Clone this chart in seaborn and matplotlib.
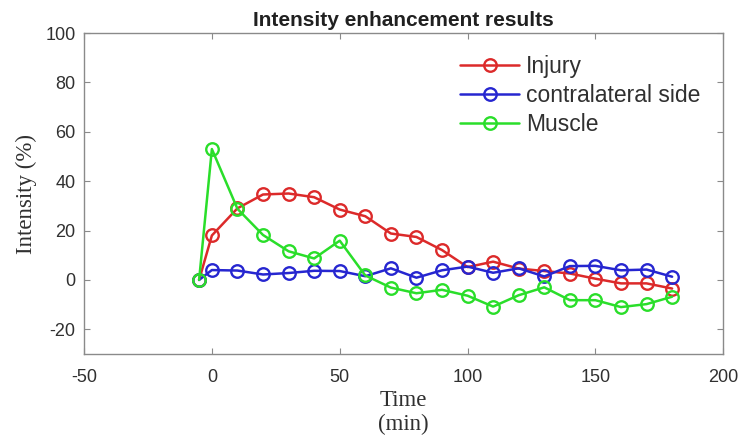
"""
Intensity enhancement over time for injury, contralateral side and muscle.
"""

import pandas as pd
import matplotlib
matplotlib.use("Agg")
import matplotlib.pyplot as plt
import seaborn as sns

# data
time_min = [-5, 0, 10, 20, 30, 40, 50, 60, 70, 80, 90, 100,
            110, 120, 130, 140, 150, 160, 170, 180]
injury = [0, 18, 29, 34.6, 35, 33.5, 28.5, 25.8, 18.8, 17.4, 12.1, 5.2,
          7.4, 4.6, 3.6, 2.6, 0.5, -1.4, -1.4, -3.5]
contralateral = [0, 4, 3.8, 2.2, 2.8, 3.7, 3.6, 1.5, 4.7, 0.9, 3.9, 5.4,
                 2.9, 4.7, 1.4, 5.6, 5.7, 3.9, 4.2, 1.3]
muscle = [0, 53, 28.8, 18.2, 11.6, 8.7, 15.9, 1.8, -3.1, -5.4, -4.0, -6.4,
          -10.8, -6.2, -3.0, -8.2, -8.2, -11, -9.8, -6.8]
series_names = ["Injury", "contralateral side", "Muscle"]
colors = ["#dc2a2a", "#2626d0", "#2ade2a"]

x_ticks = [-50, 0, 50, 100, 150, 200]
y_ticks = [-20, 0, 20, 40, 60, 80, 100]


def build_frame():
    parts = []
    for name, vals in zip(series_names, [injury, contralateral, muscle]):
        parts.append(pd.DataFrame({"time": time_min, "intensity": vals,
                                   "region": name}))
    return pd.concat(parts, ignore_index=True)


def main():
    df = build_frame()

    sns.set_theme(style="ticks")
    plt.rcParams['font.family'] = ['Liberation Sans', 'DejaVu Sans']
    plt.rcParams['axes.unicode_minus'] = False

    fig = plt.figure(figsize=(7.45, 4.45), dpi=100)
    ax = fig.add_axes([0.1128, 0.2045, 0.858, 0.7213])

    sns.lineplot(data=df, x="time", y="intensity", hue="region",
                 hue_order=series_names, palette=colors,
                 errorbar=None, legend=False, ax=ax)

    # MATLAB-like open circle markers on solid lines
    # (seaborn defaults the marker edge to white, so set it to the line colour)
    for line, col in zip(ax.lines[:3], colors):
        line.set_linestyle("-")
        line.set_linewidth(1.8)
        line.set_marker("o")
        line.set_markersize(9)
        line.set_markerfacecolor("none")
        line.set_markeredgecolor(col)
        line.set_markeredgewidth(1.7)

    ax.set_xlim(-50, 200)
    ax.set_ylim(-30, 100)
    ax.set_xticks(x_ticks)
    ax.set_yticks(y_ticks)

    for side in ["top", "right", "left", "bottom"]:
        ax.spines[side].set_visible(True)
        ax.spines[side].set_color("#8a8a8a")
        ax.spines[side].set_linewidth(1.0)
    ax.tick_params(direction="in", length=4, width=0.8, color="#8a8a8a",
                   top=True, right=True, labelsize=13, labelcolor="#303030")
    ax.tick_params(axis="x", pad=11)
    ax.tick_params(axis="y", pad=6)

    ax.set_title("Intensity enhancement results", fontsize=15,
                 fontweight="bold", color="#202020", pad=5)
    ax.set_xlabel("Time\n(min)", family=["Liberation Serif"], fontsize=16.5,
                  color="#303030", linespacing=1.15, labelpad=3)
    ax.set_ylabel("Intensity (%)", family=["Liberation Serif"], fontsize=16.5,
                  color="#303030", labelpad=6)

    ax.legend(handles=ax.lines[:3], labels=series_names, frameon=False,
              loc="upper left", bbox_to_anchor=(0.588, 0.93), borderpad=0,
              borderaxespad=0, handlelength=2.6, handletextpad=0.3,
              labelspacing=0.25, fontsize=16.5, labelcolor="#303030")

    fig.savefig("out.png", dpi=100)
    plt.close(fig)


if __name__ == '__main__':
    main()
